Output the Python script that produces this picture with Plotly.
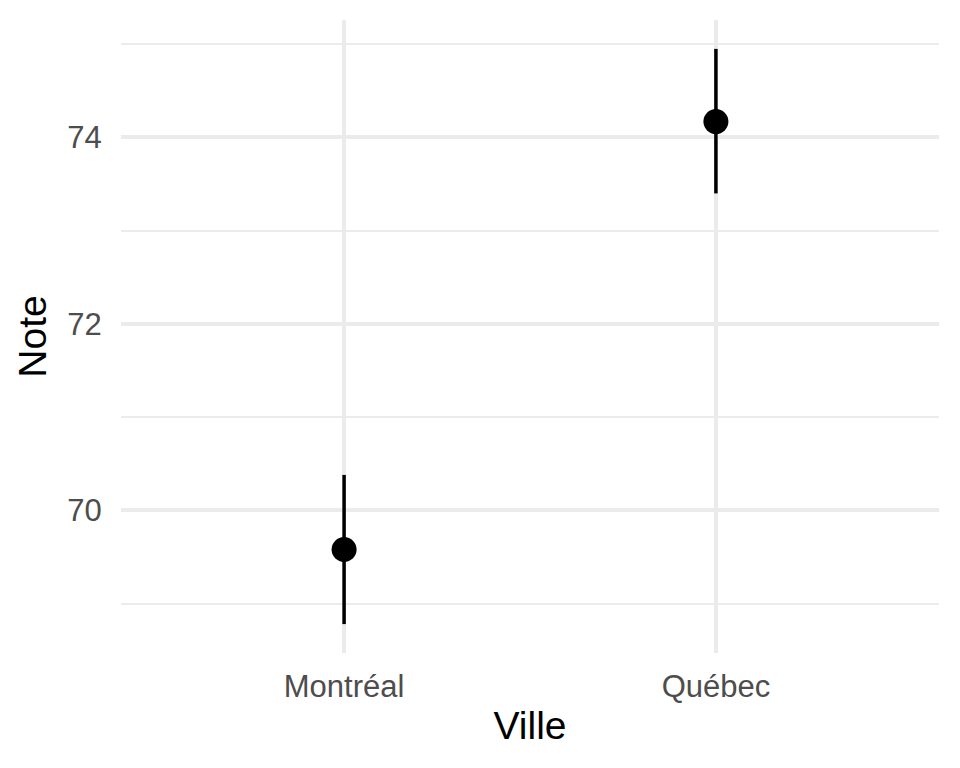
import plotly.graph_objects as go

villes = ["Montréal", "Québec"]
note_moy = [69.58, 74.17]
note_haut = [70.38, 74.95]
note_bas = [68.78, 73.40]

err_plus = [h - m for h, m in zip(note_haut, note_moy)]
err_minus = [m - b for m, b in zip(note_moy, note_bas)]

fig = go.Figure()
fig.add_trace(go.Scatter(
    x=villes, y=note_moy, mode="markers",
    marker=dict(color="black", size=25),
    error_y=dict(type="data", symmetric=False, array=err_plus, arrayminus=err_minus,
                 color="black", thickness=3.5, width=0),
    showlegend=False, cliponaxis=False,
))

grid = "#EBEBEB"
fig.update_layout(
    width=952, height=760,
    margin=dict(l=113, r=21, t=12, b=115),
    paper_bgcolor="white", plot_bgcolor="white",
    font=dict(family="Liberation Sans, Arial, sans-serif"),
    xaxis=dict(
        type="category", range=[-0.6, 1.6],
        showgrid=True, gridcolor=grid, gridwidth=3.5,
        zeroline=False, showline=False,
        ticks="outside", ticklen=6, tickcolor="rgba(0,0,0,0)",
        tickfont=dict(size=31, color="#4D4D4D"),
        title=dict(text="Ville", font=dict(size=39, color="black"), standoff=8),
    ),
    yaxis=dict(
        range=[68.47, 75.26], tick0=70, dtick=2,
        showgrid=True, gridcolor=grid, gridwidth=3.5,
        minor=dict(dtick=1, tick0=69, showgrid=True, gridcolor=grid, gridwidth=2),
        zeroline=False, showline=False,
        ticks="outside", ticklen=12, tickcolor="rgba(0,0,0,0)",
        tickfont=dict(size=31, color="#4D4D4D"),
        title=dict(text="Note", font=dict(size=39, color="black"), standoff=8),
    ),
)

fig.write_html("out.html")
